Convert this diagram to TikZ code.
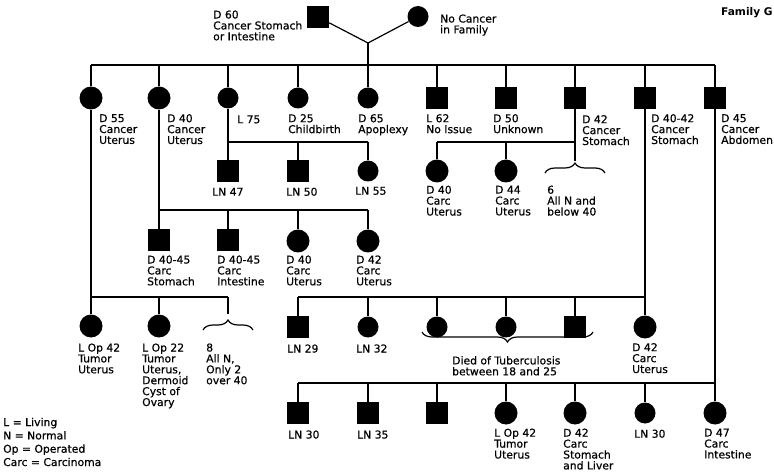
\documentclass[tikz,border=0pt]{standalone}
\usepackage{fontspec}
\setmainfont{DejaVu Sans}
\newfontfamily\lblfam[FakeBold=0.6]{DejaVu Sans}
\usetikzlibrary{decorations.pathreplacing}
\newcommand\lbfont{\lblfam\fontsize{10.8}{10.9}\selectfont}
\tikzset{
  sq/.style={rectangle, fill=black, minimum size=22pt, inner sep=0pt},
  ci/.style={circle, fill=black, minimum size=23pt, inner sep=0pt},
  cis/.style={circle, fill=black, minimum size=21pt, inner sep=0pt},
  lbl/.style={anchor=north west, yshift=9pt, align=left, inner sep=0pt, font=\lbfont,
    execute at begin node={\rule{0pt}{9pt}}},
  ln/.style={line width=1.2pt},
  brc/.style={line width=1.2pt, decorate, decoration={brace, amplitude=10pt}}
}
\begin{document}
\begin{tikzpicture}[x=1pt, y=-1pt]
\useasboundingbox (0,0) rectangle (774,473);
% rails
\coordinate (r0) at (0,65);
\coordinate (r1) at (0,142);
\coordinate (r2) at (0,210);
\coordinate (r3) at (0,297);
\coordinate (r4) at (0,383);
% generation 1
\node[sq] (p1) at (318,17) {};
\node[circle, fill=black, minimum size=21pt, inner sep=0pt] (p2) at (418,16.5) {};
\coordinate (jn) at (368,43);
\node[lbl] (p1l) at (213,19.3) {D 60\\Cancer Stomach\\or Intestine};
\node[lbl] (p2l) at (440,23.3) {No Cancer\\in Family};
\node[lbl, font=\fontsize{10.6}{11}\selectfont\bfseries] (fam) at (721,15) {Family G};
% generation 2
\node[ci]  (a1) at (91,98) {};
\node[ci]  (a2) at (159,98) {};
\node[cis] (a3) at (228,98) {};
\node[cis] (a4) at (298,98) {};
\node[cis] (a5) at (368,98) {};
\node[sq]  (a6) at (437,98) {};
\node[sq]  (a7) at (506,98) {};
\node[sq]  (a8) at (575,98) {};
\node[sq]  (a9) at (645,98) {};
\node[sq]  (a10) at (715,98) {};
\node[lbl] (a1l) at (99,123) {D 55\\Cancer\\Uterus};
\node[lbl] (a2l) at (167,123) {D 40\\Cancer\\Uterus};
\node[lbl] (a3l) at (237,123) {L 75};
\node[lbl] (a4l) at (288,123) {D 25\\Childbirth};
\node[lbl] (a5l) at (358,123) {D 65\\Apoplexy};
\node[lbl] (a6l) at (426,123) {L 62\\No Issue};
\node[lbl] (a7l) at (493,123) {D 50\\Unknown};
\node[lbl] (a8l) at (582,124) {D 42\\Cancer\\Stomach};
\node[lbl] (a9l) at (651,123) {D 40-42\\Cancer\\Stomach};
\node[lbl] (a10l) at (721,123) {D 45\\Cancer\\Abdomen};
% generation 3 (upper)
\node[sq]  (b1) at (228,171) {};
\node[sq]  (b2) at (298,171) {};
\node[cis] (b3) at (368,171) {};
\node[ci]  (b4) at (437,171) {};
\node[ci]  (b5) at (506,171) {};
\coordinate (br1) at (575,161);
\node[lbl] (b1l) at (212,195.5) {LN 47};
\node[lbl] (b2l) at (286,195.5) {LN 50};
\node[lbl] (b3l) at (355,194.5) {LN 55};
\node[lbl] (b4l) at (426,194.5) {D 40\\Carc\\Uterus};
\node[lbl] (b5l) at (495,194.5) {D 44\\Carc\\Uterus};
\node[lbl] (b6l) at (547,194.5) {6\\All N and\\below 40};
% generation 3 (lower)
\node[sq] (c1) at (159,240) {};
\node[sq] (c2) at (228,240) {};
\node[ci] (c3) at (298,241) {};
\node[ci] (c4) at (368,241) {};
\node[lbl] (c1l) at (147,264.3) {D 40-45\\Carc\\Stomach};
\node[lbl] (c2l) at (217,264.3) {D 40-45\\Carc\\Intestine};
\node[lbl] (c3l) at (286,264.3) {D 40\\Carc\\Uterus};
\node[lbl] (c4l) at (356,264.3) {D 42\\Carc\\Uterus};
% row 4
\node[ci]  (d1) at (91,326) {};
\node[ci]  (d2) at (159,326) {};
\coordinate (br2) at (228,314);
\node[sq]  (d3) at (298,327) {};
\node[cis] (d4) at (368,327) {};
\node[cis] (d5) at (437,327) {};
\node[cis] (d6) at (506,327) {};
\node[sq]  (d7) at (575,327) {};
\node[ci]  (d8) at (645,327) {};
\node[lbl] (d1l) at (78,352.3) {L Op 42\\Tumor\\Uterus};
\node[lbl] (d2l) at (142,352.3) {L Op 22\\Tumor\\Uterus,\\Dermoid\\Cyst of\\Ovary};
\node[lbl] (d9l) at (206,352.3) {8\\All N,\\Only 2\\over 40};
\node[lbl] (d3l) at (287,352.3) {LN 29};
\node[lbl] (d4l) at (356,352.3) {LN 32};
\node[lbl] (tbl) at (452,365) {Died of Tuberculosis\\between 18 and 25};
\node[lbl] (d8l) at (632,352) {D 42\\Carc\\Uterus};
% row 5
\node[sq]  (e1) at (298,413) {};
\node[sq]  (e2) at (368,413) {};
\node[sq]  (e3) at (437,413) {};
\node[ci]  (e4) at (506,413) {};
\node[ci]  (e5) at (575,413) {};
\node[cis] (e6) at (645,413) {};
\node[ci]  (e7) at (715,413) {};
\node[lbl] (e1l) at (288,438.3) {LN 30};
\node[lbl] (e2l) at (357,438.3) {LN 35};
\node[lbl] (e4l) at (494,437.5) {L Op 42\\Tumor\\Uterus};
\node[lbl] (e5l) at (563,437.5) {D 42\\Carc\\Stomach\\and Liver};
\node[lbl] (e6l) at (634,437.5) {LN 30};
\node[lbl] (e7l) at (704,437.5) {D 47\\Carc\\Intestine};
% legend
\node[lbl, font=\lblfam\fontsize{10.8}{13.3}\selectfont] (leg) at (3,426.7) {L = Living\\N = Normal\\Op = Operated\\Carc = Carcinoma};
% connectors
\draw[ln] (p1) -- (jn) -- (p2);
\draw[ln] (jn) -- (a5 |- r0);
\draw[ln] (a1 |- r0) -- (a10 |- r0);
\foreach \n in {a1,a2,a3,a4,a5,a6,a7,a8,a9,a10} \draw[ln] (\n |- r0) -- (\n);
% L75 family
\draw[ln] (a3) -- (b1);
\draw[ln] (a3 |- r1) -- (b3 |- r1);
\draw[ln] (b2 |- r1) -- (b2);
\draw[ln] (b3 |- r1) -- (b3);
% D42 stomach family
\draw[ln] (a8) -- (br1);
\draw[ln] (b4 |- r1) -- (a8 |- r1);
\draw[ln] (b4 |- r1) -- (b4);
\draw[ln] (b5 |- r1) -- (b5);
\draw[brc] (545,173) -- (605,173);
% D40 family
\draw[ln] (a2) -- (c1);
\draw[ln] (c1 |- r2) -- (c4 |- r2);
\foreach \n in {c2,c3,c4} \draw[ln] (\n |- r2) -- (\n);
% D55 family
\draw[ln] (a1) -- (d1);
\draw[ln] (a1 |- r3) -- (br2 |- r3);
\draw[ln] (d2 |- r3) -- (d2);
\draw[ln] (br2 |- r3) -- (br2);
\draw[brc] (203,330) -- (253,330);
% row 4 family
\draw[ln] (a9) -- (d8);
\draw[ln] (d3 |- r3) -- (d8 |- r3);
\foreach \n in {d3,d4,d5,d6,d7} \draw[ln] (\n |- r3) -- (\n);
\draw[brc] (593,332) -- (422,332);
% row 5 family
\draw[ln] (a10) -- (e7);
\draw[ln] (e1 |- r4) -- (e7 |- r4);
\foreach \n in {e1,e2,e3,e4,e5,e6} \draw[ln] (\n |- r4) -- (\n);
\end{tikzpicture}
\end{document}
